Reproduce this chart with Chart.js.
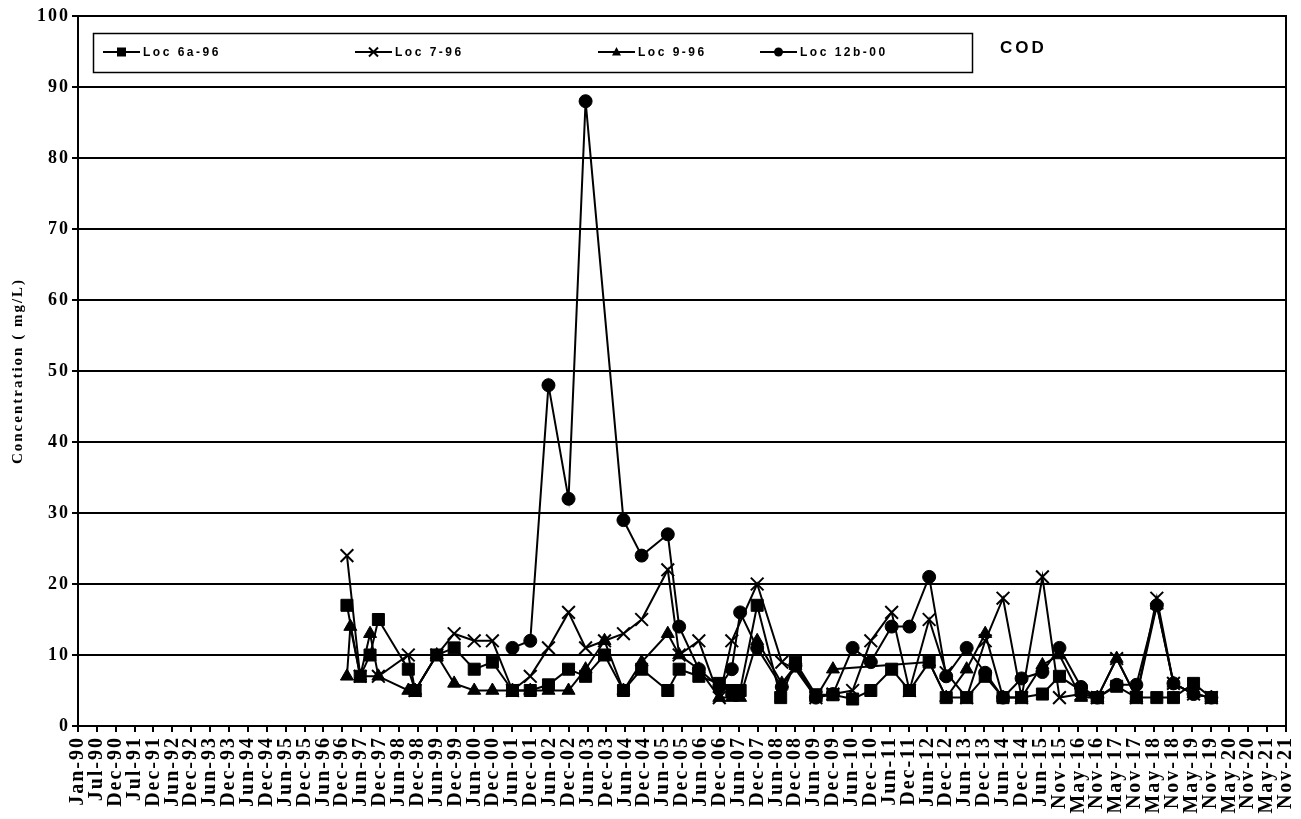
<!DOCTYPE html>
<html>
<head>
<meta charset="utf-8">
<title>COD</title>
<script src="https://cdn.jsdelivr.net/npm/chart.js@4.4.1/dist/chart.umd.min.js"></script>
<style>
  html, body { margin: 0; padding: 0; background: #fff; }
</style>
</head>
<body>
<canvas id="codChart" width="1301" height="819"></canvas>
<script>
// tick labels of the date axis (Excel puts one every 182 days from Jan-90)
const xTickLabels = ['Jan-90','Jul-90','Dec-90','Jul-91','Dec-91','Jun-92','Dec-92','Jun-93','Dec-93','Jun-94',
  'Dec-94','Jun-95','Dec-95','Jun-96','Dec-96','Jun-97','Dec-97','Jun-98','Dec-98','Jun-99','Dec-99','Jun-00',
  'Dec-00','Jun-01','Dec-01','Jun-02','Dec-02','Jun-03','Dec-03','Jun-04','Dec-04','Jun-05','Dec-05','Jun-06',
  'Dec-06','Jun-07','Dec-07','Jun-08','Dec-08','Jun-09','Dec-09','Jun-10','Dec-10','Jun-11','Dec-11','Jun-12',
  'Dec-12','Jun-13','Dec-13','Jun-14','Dec-14','Jun-15','Nov-15','May-16','Nov-16','May-17','Nov-17','May-18',
  'Nov-18','May-19','Nov-19','May-20','Nov-20','May-21','Nov-21'];

const yTicks = [0, 10, 20, 30, 40, 50, 60, 70, 80, 90, 100];

// sample dates (decimal years) and COD in mg/L, per location
const loc6aDates = [1997.10, 1997.45, 1997.71, 1997.93, 1998.72, 1998.90, 1999.47, 1999.93, 2000.46, 2000.94,
  2001.47, 2001.94, 2002.42, 2002.95, 2003.40, 2003.90, 2004.40, 2004.88, 2005.57, 2005.87, 2006.39, 2006.93,
  2007.26, 2007.48, 2007.93, 2008.55, 2008.94, 2009.48, 2009.93, 2010.45, 2010.93, 2011.48, 2011.95, 2012.47,
  2012.92, 2013.46, 2013.95, 2014.42, 2014.91, 2015.46, 2015.91, 2016.48, 2016.91, 2017.42, 2017.94, 2018.48,
  2018.92, 2019.45, 2019.92];
const loc6aCOD = [17, 7, 10, 15, 8, 5, 10, 11, 8, 9,
  5, 5, 5.8, 8, 7, 10, 5, 8, 5, 8, 7, 6,
  5, 5, 17, 4, 9, 4.4, 4.4, 3.8, 5, 8, 5, 9,
  4, 4, 7, 4, 4, 4.5, 7, 5, 4, 5.6, 4, 4,
  4, 6, 4];

const loc7Dates = [1997.10, 1997.45, 1997.93, 1998.72, 1998.90, 1999.47, 1999.93, 2000.46, 2000.94, 2001.47,
  2001.94, 2002.42, 2002.95, 2003.40, 2003.90, 2004.40, 2004.88, 2005.57, 2005.87, 2006.39, 2006.93, 2007.26,
  2007.93, 2008.58, 2008.94, 2009.48, 2009.93, 2010.45, 2010.93, 2011.48, 2011.95, 2012.47, 2012.92, 2013.46,
  2013.95, 2014.42, 2014.91, 2015.46, 2015.91, 2016.48, 2016.91, 2017.42, 2017.94, 2018.48, 2018.92, 2019.45,
  2019.92];
const loc7COD = [24, 7, 7, 10, 5, 10, 13, 12, 12, 5,
  7, 11, 16, 11, 12, 13, 15, 22, 10, 12, 4, 12,
  20, 9, 8, 4, 4.5, 5, 12, 16, 5, 15, 7.5, 4,
  12, 18, 4, 21, 4, 4.5, 4, 9.5, 4, 18, 6, 4.5,
  4];

const loc9Dates = [1997.10, 1997.19, 1997.45, 1997.71, 1997.93, 1998.72, 1998.90, 1999.47, 1999.93, 2000.46,
  2000.94, 2001.47, 2001.94, 2002.42, 2002.95, 2003.40, 2003.90, 2004.40, 2004.88, 2005.57, 2005.87, 2006.39,
  2006.93, 2007.26, 2007.48, 2007.93, 2008.58, 2008.94, 2009.48, 2009.93, 2012.47, 2012.92, 2013.46, 2013.95,
  2014.42, 2014.91, 2015.46, 2015.91, 2016.48, 2016.91, 2017.42, 2017.94, 2018.48, 2018.92, 2019.45, 2019.92];
const loc9COD = [7, 14, 7, 13, 7, 5, 5, 10, 6, 5,
  5, 5, 5, 5, 5, 8, 12, 5, 9, 13, 10, 8,
  4, 4, 4, 12, 6, 8.5, 4, 8, 9, 4, 8, 13,
  4, 4, 8.6, 10, 4, 4, 9.5, 4, 17, 6, 4.5, 4];

const loc12bDates = [2001.47, 2001.94, 2002.42, 2002.95, 2003.40, 2004.40, 2004.88, 2005.57, 2005.87, 2006.39,
  2006.93, 2007.26, 2007.48, 2007.93, 2008.58, 2008.94, 2009.48, 2009.93, 2010.45, 2010.93, 2011.48, 2011.95,
  2012.47, 2012.92, 2013.46, 2013.95, 2014.42, 2014.91, 2015.46, 2015.91, 2016.48, 2016.91, 2017.42, 2017.94,
  2018.48, 2018.92, 2019.45, 2019.92];
const loc12bCOD = [11, 12, 48, 32, 88, 29, 24, 27, 14, 8,
  5.5, 8, 16, 11, 5.5, 8.5, 4, 4.5, 11, 9, 14, 14,
  21, 7, 11, 7.5, 4, 6.7, 7.6, 11, 5.5, 4, 5.8, 5.8,
  17, 6, 4.5, 4];

const tickStep = 182 / 365.25;
const xStart = 1990;
const xEnd = xStart + (xTickLabels.length - 1) * tickStep;
const serif = '"Liberation Serif", "Times New Roman", serif';
const sans = '"Liberation Sans", Arial, sans-serif';

function toPoints(dates, vals) {
    return dates.map((d, i) => ({ x: d, y: vals[i] }));
}

function makeSeries(label, dates, vals, style, radius, order) {
    return {
        label: label,
        data: toPoints(dates, vals),
        borderColor: '#000',
        backgroundColor: '#000',
        borderWidth: 2,
        pointStyle: style,
        pointRadius: radius,
        pointBorderWidth: style === 'crossRot' ? 2 : 1,
        pointBorderColor: '#000',
        pointBackgroundColor: '#000',
        tension: 0,
        order: order
    };
}

function drawMarker(ctx, style, x, y, r) {
    ctx.beginPath();
    if (style === 'rect') {
        ctx.rect(x - r, y - r, 2 * r, 2 * r);
        ctx.fill();
    } else if (style === 'circle') {
        ctx.arc(x, y, r, 0, Math.PI * 2);
        ctx.fill();
    } else if (style === 'triangle') {
        ctx.moveTo(x, y - r * 1.1);
        ctx.lineTo(x + r, y + r * 0.8);
        ctx.lineTo(x - r, y + r * 0.8);
        ctx.closePath();
        ctx.fill();
    } else {
        ctx.moveTo(x - r, y - r); ctx.lineTo(x + r, y + r);
        ctx.moveTo(x + r, y - r); ctx.lineTo(x - r, y + r);
        ctx.stroke();
    }
}

// keep the plot area where the Excel one is, whatever the labels ask for
function noEdgePadding(scale) {
    scale.paddingLeft = 0;
    scale.paddingRight = 0;
    scale.paddingTop = 0;
    scale.paddingBottom = 0;
}

// frame, boxed legend and the "COD" tag, drawn like the Excel original
const legendSlots = [103, 355, 598, 760];

const framePlugin = {
    id: 'frame',
    beforeDraw(chart) {
        const ctx = chart.ctx;
        ctx.save();
        ctx.fillStyle = '#fff';
        ctx.fillRect(0, 0, chart.width, chart.height);
        ctx.restore();
        ctx.letterSpacing = '2px';
    },
    afterDraw(chart) {
        const ctx = chart.ctx;
        const a = chart.chartArea;
        ctx.save();
        ctx.strokeStyle = '#000';
        ctx.lineWidth = 2;
        ctx.strokeRect(a.left, a.top, a.right - a.left, a.bottom - a.top);

        ctx.lineWidth = 1.5;
        ctx.strokeRect(93.5, 33.5, 879, 39);

        ctx.fillStyle = '#000';
        ctx.letterSpacing = '2.5px';
        ctx.font = 'bold 12px ' + sans;
        ctx.textBaseline = 'middle';
        ctx.textAlign = 'left';
        chart.data.datasets.forEach((ds, i) => {
            const x0 = legendSlots[i];
            const y = 52;
            ctx.lineWidth = 2;
            ctx.beginPath();
            ctx.moveTo(x0, y);
            ctx.lineTo(x0 + 37, y);
            ctx.stroke();
            drawMarker(ctx, ds.pointStyle, x0 + 18.5, y, 4.5);
            ctx.fillText(ds.label, x0 + 40, y + 1);
        });

        ctx.letterSpacing = '3px';
        ctx.font = 'bold 17px ' + sans;
        ctx.fillText('COD', 1000, 48);
        ctx.restore();
    }
};

const ctx = document.getElementById('codChart').getContext('2d');
const codChart = new Chart(ctx, {
    type: 'line',
    data: {
        datasets: [
            makeSeries('Loc 6a-96', loc6aDates, loc6aCOD, 'rect', 8.5, 4),
            makeSeries('Loc 7-96', loc7Dates, loc7COD, 'crossRot', 9, 3),
            makeSeries('Loc 9-96', loc9Dates, loc9COD, 'triangle', 7.5, 2),
            makeSeries('Loc 12b-00', loc12bDates, loc12bCOD, 'circle', 6.5, 1)
        ]
    },
    options: {
        responsive: false,
        animation: false,
        layout: { padding: { top: 16, right: 15, left: 0, bottom: 0 } },
        plugins: {
            legend: { display: false },
            tooltip: { enabled: false }
        },
        scales: {
            x: {
                type: 'linear',
                min: xStart,
                max: xEnd,
                afterBuildTicks: (scale) => {
                    scale.ticks = xTickLabels.map((_, i) => ({ value: xStart + i * tickStep }));
                },
                afterFit: (scale) => { scale.height = 93; noEdgePadding(scale); },
                ticks: {
                    autoSkip: false,
                    maxRotation: 90,
                    minRotation: 90,
                    padding: 4,
                    color: '#000',
                    font: { family: serif, size: 20, weight: 'bold' },
                    callback: (v, i) => xTickLabels[i]
                },
                grid: {
                    drawOnChartArea: false,
                    drawTicks: true,
                    tickLength: 6,
                    color: '#000',
                    lineWidth: 2
                },
                border: { display: true, color: '#000', width: 2 }
            },
            y: {
                min: 0,
                max: 100,
                afterBuildTicks: (scale) => {
                    scale.ticks = yTicks.map(v => ({ value: v }));
                },
                afterFit: (scale) => { scale.width = 78; noEdgePadding(scale); },
                ticks: {
                    padding: 2,
                    color: '#000',
                    font: { family: serif, size: 18, weight: 'bold' }
                },
                grid: {
                    color: '#000',
                    lineWidth: 2,
                    tickLength: 6
                },
                border: { display: true, color: '#000', width: 2 },
                title: {
                    display: true,
                    text: 'Concentration ( mg/L)',
                    color: '#000',
                    padding: { top: 9, bottom: 0 },
                    font: { family: serif, size: 15, weight: 'bold' }
                }
            }
        }
    },
    plugins: [framePlugin]
});
</script>
</body>
</html>
